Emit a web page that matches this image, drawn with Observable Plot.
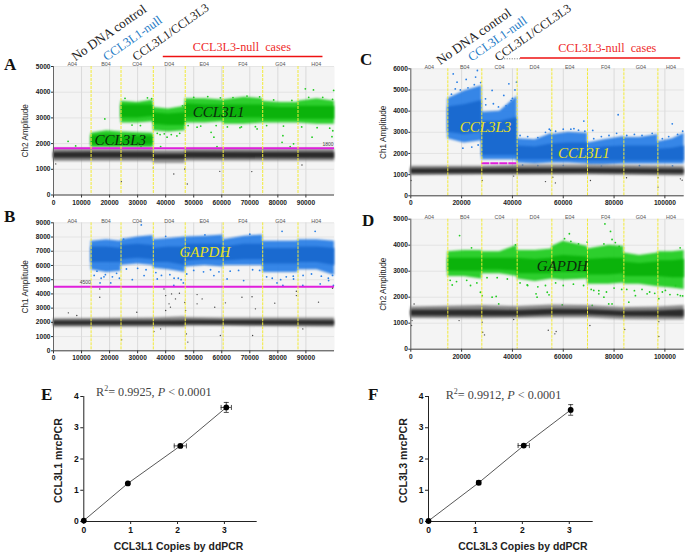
<!DOCTYPE html>
<html><head><meta charset="utf-8">
<script src="https://cdn.jsdelivr.net/npm/d3@7"></script>
<script src="https://cdn.jsdelivr.net/npm/@observablehq/plot@0.6"></script>
<style>
html,body{margin:0;background:#fff}
#page{position:relative;width:685px;height:554px;overflow:hidden;background:#fff}
#page svg{position:absolute;overflow:visible}
.letter{position:absolute;font:bold 17px "Liberation Serif";color:#111;line-height:17px}
.stat{position:absolute;font:12.2px "Liberation Serif";color:#444;white-space:nowrap;line-height:14px}
.stat sup{font-size:8px;line-height:0}
</style></head><body><div id="page"></div>
<script>
// --- shared labels
const wellNames = ["A04","B04","C04","D04","E04","F04","G04","H04"];
const edgesLeft = [0,13400,24080,35590,46970,60500,74600,87190,100200];
const edgesRight = [0,14570,27950,41860,55510,69550,83860,97240,107600];
const ticksLeftX = [0,10000,20000,30000,40000,50000,60000,70000,80000,90000];
const ticksRightX = [0,20000,40000,60000,80000,100000];
const treatmentLabels = ["No DNA control","CCL3L1-null","CCL3L1/CCL3L3"];
const caseLabel = "CCL3L3-null  cases";

// --- droplet cloud envelopes: [x, outer low, core low, core high, outer high]
const aHigh = [[24080,2800,3000,3500,3650],[30000,2800,3000,3500,3600],[35590,2850,3050,3500,3700],
 [35590,2500,2750,3200,3400],[41000,2450,2700,3150,3350],[46970,2500,2700,3200,3450],
 [46970,2800,3000,3550,3750],[54000,2800,3000,3500,3750],[60500,2850,3000,3500,3700],
 [60500,2750,3000,3500,3700],[68000,2750,3000,3500,3800],[74600,2800,3000,3500,3750],
 [74600,2800,2950,3450,3650],[81000,2800,2950,3400,3600],[87190,2800,2950,3400,3600],
 [87190,2800,2950,3450,3650],[94000,2750,2950,3450,3750],[100200,2750,2950,3450,3650]];
const aLow = [[13400,1850,1950,2300,2400],[19000,1850,1950,2350,2500],[24080,1850,1950,2300,2450],[35590,1850,1950,2300,2400]];
const aNeg = [[0,1300,1430,1650,1790],[13400,1300,1430,1660,1790],[35590,1300,1430,1660,1790],
 [35590,1240,1380,1600,1720],[46970,1240,1380,1600,1720],[46970,1310,1430,1660,1790],[100200,1310,1420,1650,1790]];
const bPos = [[13400,5700,6200,7300,7700],[19000,5500,6200,7300,7800],[24080,5600,6200,7200,7700],
 [24080,6000,6400,7400,7800],[30000,6100,6500,7500,8000],[35590,6000,6400,7400,8100],
 [35590,5800,6200,7200,7800],[41000,5700,6200,7300,7900],[46970,5500,6000,7300,8000],
 [46970,5900,6300,7500,8000],[54000,6000,6400,7500,8050],[60500,5900,6400,7500,8150],
 [60500,6000,6300,7300,7800],[68000,6000,6400,7500,8050],[74600,6000,6400,7500,8150],
 [74600,5500,6100,7200,7700],[80000,5500,6100,7200,7700],[87190,5500,6100,7200,7700],
 [87190,5700,6200,7300,7800],[94000,5700,6200,7300,7800],[100200,5300,6000,7200,7700]];
const bNeg = [[0,1650,1800,2100,2250],[35590,1650,1800,2100,2300],[46970,1650,1780,2120,2400],
 [46970,1720,1850,2150,2350],[60500,1720,1830,2130,2300],[100200,1650,1800,2120,2300]];
const cPos = [[14570,2700,3000,4200,4600],[21000,2500,2900,4300,4950],[27950,2600,3000,4500,5200],
 [27950,1700,1900,3500,3950],[35000,1700,1900,3500,4000],[41860,1700,1900,3700,4700],
 [41860,1550,1700,2350,2700],[49000,1500,1700,2300,2650],[55510,1550,1700,2450,2950],
 [55510,1550,1700,2450,2900],[62000,1550,1700,2500,3000],[69550,1500,1700,2500,2950],
 [69550,1450,1650,2200,2500],[76000,1450,1650,2300,2650],[83860,1500,1650,2350,2800],
 [83860,1500,1650,2350,2750],[90000,1500,1650,2350,2750],[97240,1500,1650,2350,2900],
 [97240,1500,1650,2200,2550],[103000,1500,1650,2250,2700],[107600,1500,1650,2350,2950]];
const cNeg = [[0,960,1040,1270,1400],[27950,980,1050,1280,1400],[41860,980,1050,1290,1450],[70000,990,1060,1290,1450],[107600,940,1030,1260,1400]];
const dPos = [[14570,2800,3000,3500,3750],[21000,2800,3000,3500,3800],[27950,2700,3000,3500,3800],
 [27950,2900,3050,3500,3750],[35000,2900,3050,3500,3750],[41860,2800,3000,3500,4000],
 [41860,2700,2900,3500,3800],[49000,2600,2900,3450,3800],[55510,2700,2900,3500,3850],
 [55510,2700,2950,3550,3950],[60000,2650,2950,3600,4150],[69550,2700,2950,3550,3950],
 [69550,2500,2850,3450,3850],[78000,2500,2850,3500,4000],[83860,2550,2900,3500,3950],
 [83860,2500,2800,3350,3700],[90000,2500,2800,3300,3600],[97240,2400,2800,3350,3700],
 [97240,2400,2800,3400,3750],[103000,2350,2750,3400,3750],[107600,2300,2750,3450,3800]];
const dNeg = [[0,1180,1280,1500,1620],[27950,1170,1270,1510,1680],[41860,1180,1270,1490,1640],
 [55510,1200,1320,1540,1700],[69550,1200,1320,1530,1680],[83860,1130,1260,1460,1600],[97240,1120,1250,1470,1620],[107600,1120,1240,1520,1680]];

// --- individual stray droplets: [x, amplitude]
const aPosDots = [[5200,2090],[7900,1910],[18300,2960],[89800,4130],[92700,4090],[99900,4070],[38000,2350],[40500,2250],[56200,2440],[57200,2250],[81800,2310],[81500,2050],[85600,1990],[99300,2270],[99600,2500],[92200,2250],[58300,1885],[84400,1885],[38200,1885],[31200,1885],[51200,2640],[72600,2570],[44000,2300],[67000,2650],
 [25500,3760],[28000,2720],[31000,2700],[33500,3780],[35000,3750],[37000,2400],[39500,2380],[42000,2350],[45000,2400],[46000,3470],[48000,2700],[50000,3800],[52500,2680],[55000,3830],[58000,2700],[59500,3780],[62000,2650],[64000,3790],[66500,2620],[69000,3850],[72000,2660],[73500,3820],[76000,2700],[78500,3700],[82000,2680],[85000,3680],[88500,2650],[91000,3800],[94000,2620],[96000,3800],[98500,2600],[99500,3720]];
const aNegDots = [[800,1210],[24200,520],[47700,430],[59300,920],[70700,910],[88600,1170],[35600,1050],[42900,820],[46800,1010]];
const bPosDots = [[31300,8850],[81500,8400],[93300,8400],[81800,4590],[88900,4590],[42900,4590],[46300,4770],[16600,4770],[20400,4770],[28100,5000],[32300,5290],[37000,5050],[57200,5290],[61900,5050],[67800,4940],[79700,4770],[85600,5050],[95100,4700],[98100,4940],[99800,4600],[44500,5100],[18000,5200],
 [14500,5300],[15500,5600],[17000,5100],[18500,5350],[21000,5200],[22500,5450],[23500,5100],[26000,5750],[30000,5800],[33000,5700],[36500,5500],[38500,5300],[41500,5350],[43000,5100],[45500,5000],[47500,5400],[50000,5650],[53500,5550],[56000,5700],[59000,5550],[63000,5600],[66000,5650],[71000,5700],[73500,5650],[76000,5200],[78000,5100],[81000,5000],[83000,5200],[85500,5250],[89000,5300],[92000,5400],[95500,5250],[98000,5100],[99500,5300],[25000,7850],[40000,8050],[54000,8150],[70000,8200]];
const bNegDots = [[16500,4350],[16500,3770],[39400,4350],[40000,3880],[42100,4000],[44900,4050],[40000,2830],[41200,3300],[41700,3070],[43500,3650],[46800,3400],[47100,2830],[51200,3950],[53000,3650],[51200,3300],[67200,3770],[70800,3800],[78900,3350],[86600,4190],[86600,3880],[94500,3420],[99500,4400],[61300,3370],[57500,3060],[72000,2950],[5300,2670],[8300,2480],[29700,2710],[59500,1080],[71000,1080],[24300,770],[47900,610],[47400,1190],[35800,1360],[88900,1540],[38200,1540]];
const cPosDots = [[16700,5760],[26200,5920],[21800,5500],[81600,3830],[102900,3400],[68100,3530],[71600,3090],[64200,3170],[55000,3090],[32000,4980],[38600,5290],[41600,5370],[29400,4580],[36600,4740],[18200,5370],[25500,5610],[40000,4600],
 [16000,4800],[17500,5050],[19500,5000],[20500,2250],[22500,5100],[24000,2300],[25000,5250],[26500,2400],[27500,5350],[29500,4300],[32500,4350],[34500,4200],[37500,4250],[39500,4500],[41000,5000],[43000,2850],[46000,2800],[50000,2750],[53000,3000],[54500,3150],[57000,3050],[60000,3150],[63000,3150],[66000,3100],[68500,3050],[72000,2700],[75000,2800],[78000,2850],[81000,2950],[85000,2850],[88000,2900],[91000,2850],[95000,2950],[99000,2700],[101500,2800],[105000,2900],[107000,3050],[44000,1450],[50000,1420],[60000,1430],[75000,1400],[90000,1420],[103000,1410]];
const cNegDots = [[100,720],[28100,720],[55900,880],[56900,610],[40500,930],[70700,720],[84900,850],[97300,410],[97300,850],[106100,800],[106800,740],[53000,670]];
const dPosDots = [[19200,4370],[62400,4440],[76400,4820],[78600,4530],[79200,4220],[23900,3900],[41200,4010],[69400,4120],[49300,2130],[49700,2000],[53700,2190],[54400,2090],[45800,2470],[27400,2190],[28100,2060],[32000,2000],[33600,2030],[23500,2450],[16300,2470],[72000,2260],[74000,2130],[76000,2000],[77900,1740],[85800,1810],[88400,2060],[93000,2130],[97600,1940],[100200,2260],[106100,2060],[104200,2450],[71400,1680],[59600,1700],[34600,1740],[79200,1740],
 [15500,2650],[18000,2600],[22000,2650],[26000,2550],[30000,2750],[34000,2750],[38000,2700],[43000,2550],[46000,2450],[50000,2400],[53000,2450],[57000,2550],[60000,2450],[64000,2500],[68000,2450],[71000,2300],[74000,2250],[77000,2200],[80000,2350],[83000,2300],[85000,2300],[88000,2250],[91000,2300],[94000,2200],[96000,2150],[99000,2200],[102000,2100],[105000,2100],[107000,2050],[60500,4250],[63000,4150],[66000,4050],[76000,4050],[80500,4100],[82000,3950],[106000,3900]];
const dNegDots = [[500,1100],[300,910],[19000,1100],[28300,650],[29000,550],[28100,1040],[54100,730],[57200,680],[56700,590],[70500,910],[84200,760],[97600,1060],[97600,490],[40500,1140],[1300,1740]];

// --- calibration curves
const eCopies = [0,0.94,2.06,3.04], eMrc = [0.03,1.22,2.42,3.65], eCopiesErr = [0,0.02,0.13,0.11], eMrcErr = [0,0.03,0.05,0.16];
const fCopies = [0,1.07,2.03,3.03], fMrc = [0.02,1.24,2.43,3.57], fCopiesErr = [0,0.04,0.12,0.02], fMrcErr = [0,0.05,0.04,0.17];

const page = document.getElementById("page");
const GREEN = "#22cc22", GREEN_CORE = "#0bb30b", BLUE = "#2b80e6", BLUE_CORE = "#1a6ad0", YELLOW = "#e6e022";
const X = d => d[0], Y = d => d[1];

function cloud(rows, outer, core, outerOpacity = 0.95, coreBlur = "blur(1px)", outerBlur = "blur(1.3px)") {
  return [
    Plot.areaY(rows, {x: X, y1: d => d[1], y2: d => d[4], fill: outer, fillOpacity: outerOpacity, imageFilter: outerBlur}),
    Plot.areaY(rows, {x: X, y1: d => d[2], y2: d => d[3], fill: core, imageFilter: coreBlur})
  ];
}

function place(svg, left, top) {
  svg.style.left = left + "px"; svg.style.top = top + "px";
  page.appendChild(svg);
}

function droplet(o) {
  const edges = o.edges;
  const centers = d3.pairs(edges, (a, b) => (a + b) / 2);
  return Plot.plot({
    width: o.width, height: o.height,
    marginLeft: o.ml, marginRight: o.mr, marginTop: o.mt, marginBottom: o.mb,
    style: {background: "transparent", fontFamily: "Liberation Sans", color: "#222"},
    x: {domain: [edges[0], edges[8]]},
    y: {domain: [0, o.yMax]},
    marks: [
      Plot.frame({fill: "#f4f4f4", stroke: "none"}),
      Plot.gridX(o.xTicks, {stroke: "#cfcfcf", strokeOpacity: 1, strokeWidth: 0.7}),
      Plot.gridY(d3.range(0, o.yMax + 1, 1000), {stroke: "#dcdcdc", strokeOpacity: 1, strokeWidth: 0.7}),
      ...o.pos.flatMap(r => cloud(r, o.color, o.core)),
      Plot.dot(o.posDots, {x: X, y: Y, r: 0.9, fill: o.color}),
      ...cloud(o.neg, "#7d7d7d", "#2b2b2b", 0.9, "blur(0.8px)", "blur(1.2px)"),
      ...(o.rule || []),
      Plot.dot(o.negDots, {x: X, y: Y, r: 0.7, fill: "#444"}),
      Plot.ruleX(edges.slice(1, 8), {stroke: "#f2ea3a", strokeWidth: 1, strokeDasharray: "3,1"}),
      Plot.axisX({ticks: o.xTicks, tickFormat: d => String(d), tickSize: 3, fontSize: 6.6, fontWeight: 600, label: null, tickPadding: 2, stroke: "#333"}),
      Plot.axisY({ticks: d3.range(0, o.yMax + 1, 1000), tickFormat: d => String(d), tickSize: 2, fontSize: 6.6, fontWeight: 600, label: null, tickPadding: 1, stroke: "#333"}),
      Plot.ruleX([0], {stroke: "#666"}),
      Plot.ruleY([0], {stroke: "#444"}),
      Plot.text(wellNames, {x: (d, i) => centers[i], frameAnchor: "top", textAnchor: "middle", dy: -4, fontSize: 5.4, fill: "#555"}),
      Plot.text([o.yLabel], {frameAnchor: "left", textAnchor: "middle", rotate: -90, dx: o.yLabelDx, fontSize: 8.2, fontWeight: 500, fill: "#222"}),
      ...(o.extra || []),
      ...o.names.map(n => Plot.text([n.text], {x: n.x, y: n.y, textAnchor: "middle", fontFamily: "Liberation Serif", fontStyle: "italic", fontSize: 15, fill: n.fill}))
    ]
  });
}

function headers(pos, casePos, line, dotted) {
  const colors = ["#222", "#1f7cc6", "#222"];
  const sizes = [13.2, 12.6, 12.2];
  return [
    ...treatmentLabels.map((t, i) => Plot.text([t], {x: pos[i][0], y: pos[i][1], rotate: -35, dx: 0.5, dy: -0.5, textAnchor: "start", lineAnchor: "middle", fontFamily: "Liberation Serif", fontSize: sizes[i], fill: colors[i]})),
    Plot.text([caseLabel], {x: casePos[0], y: casePos[1], textAnchor: "middle", lineAnchor: "bottom", fontFamily: "Liberation Serif", fontSize: 12.2, fill: "#ee2a2a"}),
    Plot.ruleY([line[2]], {x1: line[0], x2: line[1], stroke: "#ee1111", strokeWidth: 1.4}),
    ...(dotted ? [Plot.ruleY([line[2] - 40], {x1: dotted[0], x2: dotted[1], stroke: "#333", strokeWidth: 0.7, strokeDasharray: "1,1.5"})] : [])
  ];
}

const magenta = (y, x1, x2, w = 2, dash) => Plot.ruleY([y], {x1, x2, stroke: "#e01fdc", strokeWidth: w, strokeDasharray: dash});

place(droplet({width:345,height:215,ml:53,mr:11,mt:66,mb:20.5,yMax:5000,edges:edgesLeft,xTicks:ticksLeftX,
  pos:[aHigh,aLow],neg:aNeg,posDots:aPosDots,negDots:aNegDots,color:GREEN,core:GREEN_CORE,yLabel:"Ch2 Amplitude",yLabelDx:-28,
  rule:[magenta(1820,0,100200)],
  extra:[Plot.text(["1800"],{x:97900,y:1950,fontSize:5,fill:"#444"}),
    ...headers([[6760,5310],[17970,5310],[28470,5310]],[67160,5620],[39150,96090,5390])],
  names:[{text:"CCL3L3",x:23800,y:2120,fill:"#0c2a0c"},{text:"CCL3L1",x:58900,y:3240,fill:"#0c2a0c"}]}),0,0);

place(droplet({width:345,height:163,ml:53,mr:11,mt:14.3,mb:20.7,yMax:9000,edges:edgesLeft,xTicks:ticksLeftX,
  pos:[bPos],neg:bNeg,posDots:bPosDots,negDots:bNegDots,color:BLUE,core:BLUE_CORE,yLabel:"Ch1 Amplitude",yLabelDx:-28,
  rule:[magenta(4500,0,100200)],
  extra:[Plot.text(["4500"],{x:11300,y:4800,fontSize:5,fill:"#444"})],
  names:[{text:"GAPDH",x:53960,y:6950,fill:YELLOW}]}),0,208);

place(droplet({width:340,height:215,ml:65.3,mr:1.3,mt:68.3,mb:19.7,yMax:6000,edges:edgesRight,xTicks:ticksRightX,
  pos:[cPos],neg:cNeg,posDots:cPosDots,negDots:cNegDots,color:BLUE,core:BLUE_CORE,yLabel:"Ch1 Amplitude",yLabelDx:-27,
  rule:[magenta(1540,27950,41860,2,"8,1")],
  extra:headers([[10390,6306],[22830,6466],[33350,6466]],[77320,6778],[43190,106200,6513],[35990,43190]),
  names:[{text:"CCL3L3",x:29400,y:3250,fill:YELLOW},{text:"CCL3L1",x:68100,y:2000,fill:YELLOW}]}),345,0);

place(droplet({width:340,height:161,ml:65.3,mr:1.3,mt:10.7,mb:20.3,yMax:5000,edges:edgesRight,xTicks:ticksRightX,
  pos:[dPos],neg:dNeg,posDots:dPosDots,negDots:dNegDots,color:GREEN,core:GREEN_CORE,yLabel:"Ch2 Amplitude",yLabelDx:-27,
  names:[{text:"GAPDH",x:59600,y:3210,fill:"#0c2a0c"}]}),345,208);

function curve(o) {
  const rows = o.xs.map((x, i) => ({x, y: o.ys[i], ex: o.xe[i], ey: o.ye[i]}));
  const err = rows.filter(d => d.ex + d.ey > 0);
  const cap = {draw(c, s) { const r = Math.sqrt(s / Math.PI); c.moveTo(-r, 0); c.lineTo(r, 0); }};
  const capV = {draw(c, s) { const r = Math.sqrt(s / Math.PI); c.moveTo(0, -r); c.lineTo(0, r); }};
  return Plot.plot({
    width: o.width, height: 179, marginLeft: o.ml, marginRight: o.mr, marginTop: 21, marginBottom: 33,
    style: {background: "transparent", fontFamily: "Liberation Sans", color: "#111"},
    x: {domain: [0, o.xMax]}, y: {domain: [0, 4]},
    marks: [
      Plot.ruleX([0], {y1: 0, y2: 4, stroke: "#222", strokeWidth: 1}),
      Plot.ruleY([0], {x1: 0, x2: o.xMax, stroke: "#222", strokeWidth: 1}),
      Plot.axisX({ticks: [0,1,2,3], tickFormat: d => String(d), tickSize: 3, fontSize: 8.5, fontWeight: 700, label: null, stroke: "#222", tickPadding: 2}),
      Plot.axisY({ticks: [0,1,2,3,4], tickFormat: d => String(d), tickSize: 3, fontSize: 8.5, fontWeight: 700, label: null, stroke: "#222", tickPadding: 2}),
      Plot.lineY(rows, {x: "x", y: "y", stroke: "#444", strokeWidth: 0.9}),
      Plot.ruleX(err, {x: "x", y1: d => d.y - d.ey, y2: d => d.y + d.ey, stroke: "#222", strokeWidth: 0.8}),
      Plot.ruleY(err, {y: "y", x1: d => d.x - d.ex, x2: d => d.x + d.ex, stroke: "#222", strokeWidth: 0.8}),
      Plot.dot(err, {x: "x", y: d => d.y + d.ey, symbol: cap, r: 2.5, stroke: "#222", strokeWidth: 0.8, fill: "none"}),
      Plot.dot(err, {x: "x", y: d => d.y - d.ey, symbol: cap, r: 2.5, stroke: "#222", strokeWidth: 0.8, fill: "none"}),
      Plot.dot(err, {x: d => d.x + d.ex, y: "y", symbol: capV, r: 2.5, stroke: "#222", strokeWidth: 0.8, fill: "none"}),
      Plot.dot(err, {x: d => d.x - d.ex, y: "y", symbol: capV, r: 2.5, stroke: "#222", strokeWidth: 0.8, fill: "none"}),
      Plot.dot(rows, {x: "x", y: "y", r: 2.9, fill: "#000"}),
      Plot.text([o.xLabel], {frameAnchor: "bottom", textAnchor: "middle", lineAnchor: "middle", dx: o.xLabelDx, dy: 25.5, fontSize: 10.4, fontWeight: 700, fill: "#222"}),
      Plot.text([o.yLabel], {frameAnchor: "left", textAnchor: "middle", rotate: -90, dx: o.yLabelDx, dy: 1.5, fontSize: 10.6, fontWeight: 700, fill: "#222"})
    ]
  });
}

place(curve({width:345,ml:83.3,mr:88.3,xMax:3.7,xs:eCopies,ys:eMrc,xe:eCopiesErr,ye:eMrcErr,xLabel:"CCL3L1 Copies by ddPCR",yLabel:"CCL3L1 mrcPCR",xLabelDx:8,yLabelDx:-25}),0,375);
place(curve({width:340,ml:83,mr:92.3,xMax:3.51,xs:fCopies,ys:fMrc,xe:fCopiesErr,ye:fMrcErr,xLabel:"CCL3L3 Copies by ddPCR",yLabel:"CCL3L3 mrcPCR",xLabelDx:12,yLabelDx:-25}),345,375);

// --- panel letters and fit statistics
const letters = [["A",4,56],["B",4,208],["C",360,51],["D",362,212],["E",41,386],["F",368,386]];
for (const [t, l, tp] of letters) {
  const d = document.createElement("div");
  d.className = "letter"; d.textContent = t; d.style.left = l + "px"; d.style.top = tp + "px";
  page.appendChild(d);
}
const stats = [["0.9925",96,385],["0.9912",445.7,388]];
for (const [v, l, tp] of stats) {
  const d = document.createElement("div");
  d.className = "stat"; d.innerHTML = `R<sup>2</sup>= ${v}, <i>P</i> &lt; 0.0001`;
  d.style.left = l + "px"; d.style.top = tp + "px";
  page.appendChild(d);
}
</script></body></html>
